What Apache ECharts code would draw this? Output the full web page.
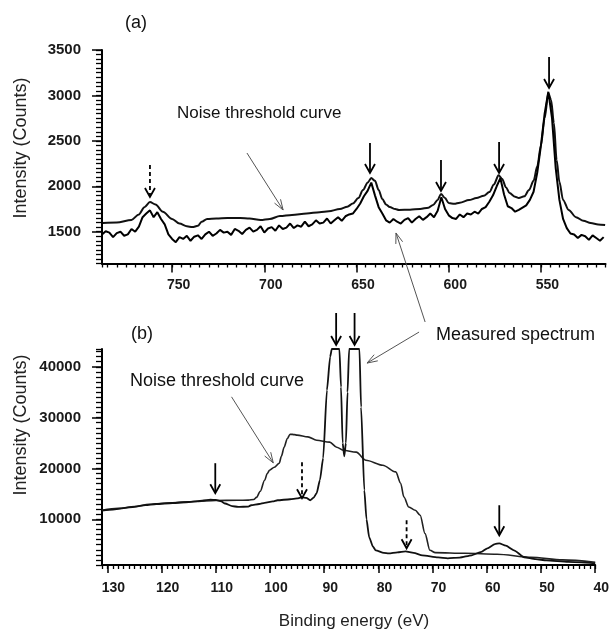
<!DOCTYPE html>
<html><head><meta charset="utf-8">
<script src="https://cdn.jsdelivr.net/npm/echarts@6/dist/echarts.min.js"></script>
<style>html,body{margin:0;padding:0;background:#fff}#c{width:612px;height:636px}</style>
</head><body><div id="c"></div>
<script>
// ---------- tick labels ----------
const topXTicks = [550, 600, 650, 700, 750];
const topYTicks = [1500, 2000, 2500, 3000, 3500];
const botXTicks = [40, 50, 60, 70, 80, 90, 100, 110, 120, 130];
const botYTicks = [10000, 20000, 30000, 40000];

// ---------- (a) binding energy (eV), intensity (counts) ----------
const topMeasured = [
 [788,1470],[786,1505],[784,1490],[782,1440],[780,1485],[778,1500],[776,1455],[774,1470],[772,1530],[770,1500],
 [768,1555],[766,1660],[764,1700],[762,1735],[760,1660],[758,1715],[756,1640],[754,1580],[752,1470],[750,1420],
 [748,1385],[746,1440],[744,1420],[742,1455],[740,1400],[738,1445],[736,1460],[734,1420],[732,1470],[730,1500],
 [728,1455],[726,1480],[724,1520],[722,1490],[720,1500],[718,1465],[716,1530],[714,1510],[712,1475],[710,1520],
 [708,1545],[706,1500],[704,1520],[702,1560],[700,1490],[698,1535],[696,1550],[694,1510],[692,1570],[690,1530],
 [688,1545],[686,1590],[684,1540],[682,1570],[680,1555],[678,1610],[676,1560],[674,1580],[672,1625],[670,1590],
 [668,1600],[666,1645],[664,1590],[662,1625],[660,1660],[658,1620],[656,1670],[654,1690],[652,1700],[650,1750],
 [648,1810],[646,1890],[644,1950],[642,2040],[640,1900],[638,1770],[636,1700],[634,1625],[632,1600],[630,1640],
 [628,1610],[626,1590],[624,1630],[622,1650],[620,1600],[618,1640],[616,1670],[614,1630],[612,1660],[610,1700],
 [608,1660],[606,1730],[604,1880],[602,1750],[600,1680],[598,1650],[596,1640],[594,1690],[592,1660],[590,1700],
 [588,1690],[586,1720],[584,1700],[582,1750],[580,1770],[578,1830],[576,1900],[574,2000],[572,2090],[570,1910],
 [568,1780],[566,1760],[564,1720],[562,1740],[560,1765],[558,1790],[556,1850],[554,1940],[552,2150],[550,2450],
 [548,2800],[546,3040],[544,2750],[542,2200],[540,1850],[538,1640],[536,1540],[534,1480],[532,1470],[530,1430],
 [528,1465],[526,1450],[524,1410],[522,1460],[520,1430],[518,1400],[516,1440]
];
const topNoise = [
 [787.5,1595],[780,1600],[772,1630],[768,1690],[765,1770],[762,1826],[759,1800],[755,1720],[750,1640],[746,1590],
 [742,1560],[739,1551],[736,1565],[734,1610],[731,1640],[726,1645],[720,1650],[713,1652],[708,1645],[702,1628],
 [697,1640],[691.5,1672],[685,1685],[677,1700],[670,1715],[665,1725],[659,1750],[655,1775],[652,1810],[649,1870],
 [646.5,1958],[644,2040],[642,2090],[640,2060],[638,1960],[636,1860],[634,1800],[632,1771],[629,1750],[627,1739],
 [621,1742],[615.5,1750],[611,1765],[608.5,1794],[606,1850],[604.2,1915],[602,1870],[600,1815],[597,1808],[594,1820],
 [589,1848],[585,1870],[581,1895],[578,1936],[575.5,2020],[573,2120],[571,2080],[569,1990],[567,1925],[564,1885],
 [562,1870],[559,1890],[556.5,1958],[554,2060],[552,2220],[550,2450],[548,2750],[546,3025],[544.5,2950],[543,2700],
 [541.5,2290],[540,2050],[538,1850],[535,1740],[531,1660],[527,1620],[523,1595],[519,1580],[515.2,1573]
];
// peak arrows: [energy, start intensity, tip intensity, dashed]
const topPeakArrows = [[762,2234,1882,1],[642.7,2476,2146,0],[604.2,2289,1948,0],[572.7,2487,2146,0],[545.6,3423,3082,0]];
// pointer lines: [from energy, from intensity, to energy, to intensity]
const topPointers = [[709.4,2366,689.8,1739],[612.8,506,628.6,1486]];

// ---------- (b) ----------
const botMeasured = [
 [131,11700],[129,11900],[127,12200],[125,12450],[123,12800],[121,13000],[118,13200],[115,13400],[112.5,13650],[111,13850],
 [110,13800],[109,13500],[108.3,13100],[107,12600],[105.9,12420],[104,12500],[103.5,12760],[102,13000],[101,13210],[99.5,13500],
 [98.6,13740],[96.3,13940],[95,14100],[94.1,14330],[93.3,14200],[92.6,13740],[92,14200],[91.4,15120],[90.8,17680],[90.2,22000],
 [89.5,35400],[88.9,42000],[88.6,43500],[87.2,43500],[86.9,36000],[86.6,25000],[86.3,22400],[86.0,25000],[85.7,35000],[85.4,43500],
 [83.5,43500],[83.2,32060],[82.6,15710],[82.2,10000],[81.7,6450],[81,4600],[80.5,3890],[79,3400],[78.1,3300],[76.5,3500],
 [75,3700],[73.5,3400],[71.9,2910],[69,2500],[67.2,2320],[65,2450],[62.8,2910],[61,3600],[59.9,4290],[58.5,5100],
 [57.7,5270],[56.5,4800],[55,3890],[53.1,2520],[51,2150],[49,1920],[45,1600],[40,1330]
];
const botNoise = [
 [131,11770],[128,12150],[125,12500],[122.3,12950],[118,13250],[114,13500],[110,13700],[106,13740],[104,13760],[103,13900],
 [102.5,14300],[101.8,15500],[101,17680],[100.5,19000],[100.1,19650],[99.2,20240],[98.3,21030],[97.9,22400],[97.4,24180],[96.8,25900],
 [96.3,26740],[95.5,26650],[95,26550],[93,26200],[91.4,25560],[89,25170],[87.7,24180],[86.5,23590],[84.1,23200],[82.3,21620],
 [79.2,20640],[76.8,19320],[75.9,17090],[75.3,14390],[74.4,12420],[73.2,11770],[72.3,10790],[71.4,7180],[70.5,3890],[69.5,3440],
 [64.1,3300],[58.1,3110],[51.9,2520],[46,2000],[40,1530]
];
const botPeakArrows = [[110.1,21030,15121,0],[94.1,21227,14136,1],[87.8,50580,44290,0],[84.4,50580,44290,0],[74.8,9803,4288,1],[57.7,12757,6848,0]];
const botPointers = [[107.1,34089,99.4,21089],[72.5,46833,82.1,40727]];

// ---------- rendering ----------
const FONT = "'Liberation Sans', Arial, sans-serif";
const chart = echarts.init(document.getElementById('c'), null, {renderer: 'canvas'});

function peakArrow(params, api) {
  const x = api.value(0);
  const p0 = api.coord([x, api.value(1)]);
  const p1 = api.coord([x, api.value(2)]);
  const dashed = api.value(3) === 1;
  const h = 9, w = 5;
  return {type: 'group', children: [
    {type: 'line', shape: {x1: p0[0], y1: p0[1], x2: p1[0], y2: p1[1] - 1},
     style: {stroke: '#000', lineWidth: 1.8, lineDash: dashed ? [4, 3] : null}},
    {type: 'polyline', shape: {points: [[p1[0] - w, p1[1] - h], [p1[0], p1[1]], [p1[0] + w, p1[1] - h]]},
     style: {stroke: '#000', lineWidth: 1.8, fill: null}}
  ]};
}
function pointer(params, api) {
  const a = api.coord([api.value(0), api.value(1)]);
  const b = api.coord([api.value(2), api.value(3)]);
  const ang = Math.atan2(b[1] - a[1], b[0] - a[0]);
  const L = 11, s = 0.33;
  const h1 = [b[0] - L * Math.cos(ang - s), b[1] - L * Math.sin(ang - s)];
  const h2 = [b[0] - L * Math.cos(ang + s), b[1] - L * Math.sin(ang + s)];
  return {type: 'group', children: [
    {type: 'line', shape: {x1: a[0], y1: a[1], x2: b[0], y2: b[1]}, style: {stroke: '#555', lineWidth: 1}},
    {type: 'polyline', shape: {points: [h1, b, h2]}, style: {stroke: '#555', lineWidth: 1, fill: null}}
  ]};
}

function minorAxis(grid, min, max, interval, inverse, len) {
  return {type: 'value', gridIndex: grid, min: min, max: max, interval: interval, inverse: inverse,
    axisLine: {show: true, onZero: false, lineStyle: {color: '#000', width: 2}},
    axisTick: {show: true, length: len, lineStyle: {color: '#000', width: 1.3}},
    axisLabel: {show: false}, splitLine: {show: false}};
}
function majorAxis(grid, min, max, inverse, ticks, len, labelStyle) {
  return {type: 'value', gridIndex: grid, min: min, max: max, inverse: inverse,
    axisLine: {show: false, onZero: false},
    axisTick: {show: true, length: len, customValues: ticks, lineStyle: {color: '#000', width: 1.5}},
    axisLabel: Object.assign({show: true, customValues: ticks, fontFamily: FONT, color: '#1a1a1a', fontWeight: 'bold',
      formatter: function (v) { return String(v); }}, labelStyle),
    splitLine: {show: false}};
}

const lineBase = {type: 'line', showSymbol: false, symbol: 'none', animation: false, z: 3};

chart.setOption({
  animation: false,
  backgroundColor: '#fff',
  grid: [
    {left: 102, width: 503.5, top: 50, height: 213.5},
    {left: 102, width: 500.5, top: 349, height: 216}
  ],
  xAxis: [
    Object.assign(minorAxis(0, 515, 788, 5, true, 4), {position: 'bottom'}),
    Object.assign(majorAxis(0, 515, 788, true, topXTicks, 9, {fontSize: 14, margin: 15, padding: [0, 0, 0, 13]}), {position: 'bottom'}),
    Object.assign(minorAxis(1, 40, 131, 1, true, 4), {position: 'bottom'}),
    Object.assign(majorAxis(1, 40, 131, true, botXTicks, 8, {fontSize: 14, margin: 16, padding: [0, 0, 0, 12]}), {position: 'bottom'})
  ],
  yAxis: [
    Object.assign(minorAxis(0, 1150, 3500, 50, false, 6), {position: 'left'}),
    Object.assign(majorAxis(0, 1150, 3500, false, topYTicks, 10, {fontSize: 15, margin: 21}), {position: 'left'}),
    Object.assign(minorAxis(1, 1000, 43500, 1000, false, 6), {position: 'left'}),
    Object.assign(majorAxis(1, 1000, 43500, false, botYTicks, 10, {fontSize: 15, margin: 21}), {position: 'left'})
  ],
  series: [
    Object.assign({}, lineBase, {name: 'Noise threshold curve (a)', xAxisIndex: 0, yAxisIndex: 0, data: topNoise,
      smooth: 0.3, smoothMonotone: 'x', lineStyle: {color: '#111', width: 2}}),
    Object.assign({}, lineBase, {name: 'Measured spectrum (a)', xAxisIndex: 0, yAxisIndex: 0, data: topMeasured,
      lineStyle: {color: '#000', width: 2}}),
    Object.assign({}, lineBase, {name: 'Noise threshold curve (b)', xAxisIndex: 2, yAxisIndex: 2, data: botNoise,
      smooth: 0.3, smoothMonotone: 'x', lineStyle: {color: '#222', width: 1.6}}),
    Object.assign({}, lineBase, {name: 'Measured spectrum (b)', xAxisIndex: 2, yAxisIndex: 2, data: botMeasured,
      smooth: 0.2, smoothMonotone: 'x', lineStyle: {color: '#111', width: 1.8}}),
    {type: 'custom', xAxisIndex: 0, yAxisIndex: 0, renderItem: peakArrow, data: topPeakArrows, clip: false, z: 5, silent: true},
    {type: 'custom', xAxisIndex: 2, yAxisIndex: 2, renderItem: peakArrow, data: botPeakArrows, clip: false, z: 5, silent: true},
    {type: 'custom', xAxisIndex: 0, yAxisIndex: 0, renderItem: pointer, data: topPointers, clip: false, z: 5, silent: true},
    {type: 'custom', xAxisIndex: 2, yAxisIndex: 2, renderItem: pointer, data: botPointers, clip: false, z: 5, silent: true}
  ],
  graphic: [
    {type: 'text', x: 136, y: 23, style: {text: '(a)', font: '18px ' + FONT, fill: '#111', align: 'center', verticalAlign: 'middle'}},
    {type: 'text', x: 142, y: 334, style: {text: '(b)', font: '18px ' + FONT, fill: '#111', align: 'center', verticalAlign: 'middle'}},
    {type: 'text', x: 177, y: 113, style: {text: 'Noise threshold curve', font: '17px ' + FONT, fill: '#111', align: 'left', verticalAlign: 'middle'}},
    {type: 'text', x: 130, y: 381, style: {text: 'Noise threshold curve', font: '18px ' + FONT, fill: '#111', align: 'left', verticalAlign: 'middle'}},
    {type: 'text', x: 436, y: 335, style: {text: 'Measured spectrum', font: '18px ' + FONT, fill: '#111', align: 'left', verticalAlign: 'middle'}},
    {type: 'text', x: 21, y: 148, rotation: Math.PI / 2, style: {text: 'Intensity (Counts)', font: '18px ' + FONT, fill: '#222', align: 'center', verticalAlign: 'middle'}},
    {type: 'text', x: 21, y: 425, rotation: Math.PI / 2, style: {text: 'Intensity (Counts)', font: '18px ' + FONT, fill: '#222', align: 'center', verticalAlign: 'middle'}},
    {type: 'text', x: 354, y: 621, style: {text: 'Binding energy (eV)', font: '17px ' + FONT, fill: '#222', align: 'center', verticalAlign: 'middle'}}
  ]
});
</script>
</body></html>
